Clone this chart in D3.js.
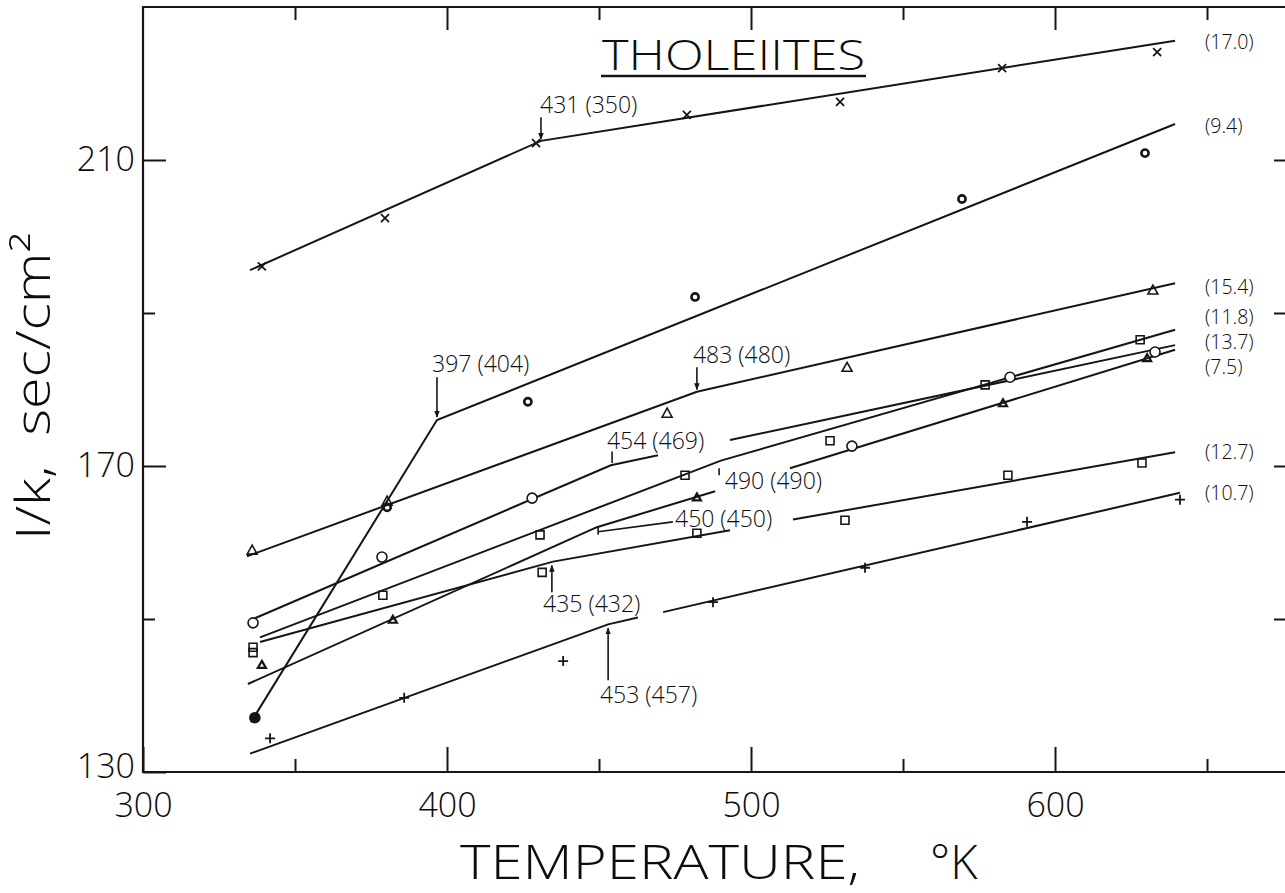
<!DOCTYPE html>
<html><head><meta charset="utf-8">
<script src="https://cdn.jsdelivr.net/npm/d3@7"></script>
<style>
html,body{margin:0;padding:0;background:#fff;}
svg{display:block;}
text{font-family:"Open Sans","DejaVu Sans",sans-serif;font-weight:300;fill:#0d0d0d;}
</style></head><body>
<svg id="chart" width="1285" height="893"></svg>
<script>
// ---------- data (temperature in °K, 1/k in sec/cm²) ----------
const xMajorTicks = [300, 400, 500, 600];
const xMinorTicks = [350, 450, 550, 650];
const yMajorTicks = [130, 170, 210];
const yMinorTicks = [150, 190];
const xDomain = [300, 679.6];
const yDomain = [130, 230];

const seriesLabels = ["(17.0)", "(9.4)", "(15.4)", "(11.8)", "(13.7)", "(7.5)", "(12.7)", "(10.7)"];
const seriesLabelValues = [225.4, 214.4, 193.4, 189.5, 186.2, 182.9, 171.8, 166.5];
const seriesMarkers = ["cross", "ring", "tri", "square", "circle", "smalltri", "square", "plus"];

// fitted lines (segments; gaps where annotation text sits)
const fit170 = [[[335.2,195.6],[430.9,212.5],[639.5,225.6]]];
const fit94  = [[[335.5,136.5],[396.7,176.0],[639.5,214.7]]];
const fit154 = [[[334.2,158.2],[482.2,179.7],[639.5,193.9]]];
const fit118 = [[[338.5,147.6],[490.1,170.7],[639.5,187.8]]];
const fit137 = [[[336.8,150.1],[453.9,170.1],[469.4,171.4]],[[493.1,173.4],[639.5,185.8]]];
const fit75  = [[[334.5,141.5],[449.3,162.0],[488.2,166.7]],[[512.8,169.7],[639.5,185.2]]];
const fit127 = [[[338.5,147.0],[434.9,157.5],[493.1,161.6]],[[513.8,163.0],[639.5,171.8]]];
const fit107 = [[[335.2,132.4],[453.0,149.3],[462.8,150.2]],[[471.1,150.9],[641.1,166.5]]];

// measured points
const pts170 = [[339.1,196.1],[379.6,202.4],[429.3,212.2],[478.9,215.9],[529.3,217.6],[582.6,222.0],[633.6,224.1]];
const pts94  = [[336.8,137.1],[380.3,164.6],[426.6,178.4],[481.6,192.1],[569.4,204.9],[629.6,210.9]];
const pts154 = [[335.9,159.0],[380.3,165.4],[472.4,176.9],[531.6,182.9],[632.2,193.0]];
const pts118 = [[336.2,146.3],[378.9,153.1],[430.6,161.0],[478.3,168.8],[526.0,173.3],[577.0,180.6],[628.0,186.5]];
const pts137 = [[336.2,149.5],[378.6,158.1],[428.0,165.8],[533.2,172.6],[585.2,181.6],[632.9,184.9]];
const pts75  = [[339.1,144.0],[382.2,149.9],[482.2,165.9],[582.9,178.2],[630.3,184.1]];
const pts127 = [[336.2,145.6],[431.3,156.1],[482.2,161.2],[530.9,162.9],[584.5,168.8],[628.6,170.4]];
const pts107 = [[341.8,134.4],[385.9,139.7],[438.2,144.5],[487.5,152.2],[537.5,156.7],[590.8,162.7],[641.1,165.6]];

// break-point annotations: text, text anchor (T,V), pointer from (T,V1) to (T,V2), pointer kind
const noteTexts = ["431 (350)", "397 (404)", "483 (480)", "454 (469)", "490 (490)", "450 (450)", "435 (432)", "453 (457)"];
const noteTextPos = [[430.6,216.1],[395.1,182.3],[480.9,183.5],[452.6,172.2],[491.4,167.0],[475.0,162.0],[431.6,150.9],[450.3,139.0]];
const notePointers = [
  [[430.9,215.6],[430.9,212.7]],
  [[396.7,181.6],[396.7,176.4]],
  [[482.2,182.9],[482.2,180.0]],
  [[454.3,171.9],[454.3,170.4]],
  [[489.5,169.7],[489.5,168.8]],
  [[449.7,161.4],[474.3,162.7]],
  [[434.5,153.5],[434.5,157.0]],
  [[453.0,142.0],[453.0,148.8]]
];
const noteArrow = [true, true, true, false, false, false, true, true];

const chartTitle = "THOLEIITES";
const xTitle = "TEMPERATURE,";
const xUnit = "°K";
const yTitle = "I/k,\u00a0\u00a0sec/cm²";

// ---------- drawing ----------
const svg = d3.select("#chart");
const x = d3.scaleLinear().domain(xDomain).range([143, 1297]);
const y = d3.scaleLinear().domain(yDomain).range([772, 7]);
const ink = "#151515";

svg.append("rect").attr("width",1285).attr("height",893).attr("fill","#fff");

const defs = svg.append("defs");
defs.append("marker").attr("id","arr").attr("viewBox","0 0 10 10").attr("refX",9).attr("refY",5)
  .attr("markerWidth",7).attr("markerHeight",7).attr("markerUnits","userSpaceOnUse").attr("orient","auto")
  .append("path").attr("d","M0,1 L10,5 L0,9 Z").attr("fill",ink);

// frame
const [x0,x1] = x.range(), [yb,yt] = y.range();
svg.append("path").attr("d",`M${x0},${yt} L${x1},${yt} L${x1},${yb} L${x0},${yb} Z`)
  .attr("fill","none").attr("stroke",ink).attr("stroke-width",2.2);

function styleAxis(g){
  g.select(".domain").remove();
  g.selectAll("line").attr("stroke",ink).attr("stroke-width",2);
  g.attr("font-family",null).attr("font-size",null);
}
// bottom
svg.append("g").attr("transform",`translate(0,${yb})`)
  .call(d3.axisBottom(x).tickValues(xMajorTicks).tickSizeInner(-25).tickSizeOuter(0).tickPadding(21).tickFormat(d3.format("d")))
  .call(styleAxis).selectAll("text").attr("font-size",34);
svg.append("g").attr("transform",`translate(0,${yb})`)
  .call(d3.axisBottom(x).tickValues(xMinorTicks).tickSizeInner(-13).tickSizeOuter(0).tickFormat(""))
  .call(styleAxis);
// top
svg.append("g").attr("transform",`translate(0,${yt})`)
  .call(d3.axisTop(x).tickValues(xMajorTicks.slice(1)).tickSizeInner(-23).tickSizeOuter(0).tickFormat(""))
  .call(styleAxis);
svg.append("g").attr("transform",`translate(0,${yt})`)
  .call(d3.axisTop(x).tickValues(xMinorTicks).tickSizeInner(-13).tickSizeOuter(0).tickFormat(""))
  .call(styleAxis);
// left
svg.append("g").attr("transform",`translate(${x0},0)`)
  .call(d3.axisLeft(y).tickValues(yMajorTicks).tickSizeInner(-23).tickSizeOuter(0).tickPadding(8).tickFormat(d3.format("d")))
  .call(styleAxis).selectAll("text").attr("font-size",34).attr("dy",d=>d===130?"0.15em":"0.32em");
svg.append("g").attr("transform",`translate(${x0},0)`)
  .call(d3.axisLeft(y).tickValues(yMinorTicks).tickSizeInner(-12).tickSizeOuter(0).tickFormat(""))
  .call(styleAxis);
// right
svg.append("g").attr("transform",`translate(${x1},0)`)
  .call(d3.axisRight(y).tickValues(yMajorTicks.slice(1)).tickSizeInner(-23).tickSizeOuter(0).tickFormat(""))
  .call(styleAxis);
svg.append("g").attr("transform",`translate(${x1},0)`)
  .call(d3.axisRight(y).tickValues(yMinorTicks).tickSizeInner(-23).tickSizeOuter(0).tickFormat(""))
  .call(styleAxis);

// fitted lines
const fits = [fit170, fit94, fit154, fit118, fit137, fit75, fit127, fit107];
const pts = [pts170, pts94, pts154, pts118, pts137, pts75, pts127, pts107];
const line = d3.line().x(d=>x(d[0])).y(d=>y(d[1]));
const gl = svg.append("g");
fits.forEach(segs => segs.forEach(s => {
  gl.append("path").attr("d", line(s)).attr("fill","none").attr("stroke",ink).attr("stroke-width",2);
}));

// markers
function marker(g, kind, cx, cy, first){
  const s = g.append("g").attr("transform",`translate(${cx},${cy})`);
  const P = (d,w)=>s.append("path").attr("d",d).attr("stroke",ink).attr("fill","none").attr("stroke-width",w);
  if(kind==="cross"){ P("M-4,-4L4,4M4,-4L-4,4",1.8); }
  else if(kind==="ring"){ s.append("circle").attr("r",first?4.5:3.6).attr("fill",first?ink:"none").attr("stroke",ink).attr("stroke-width",2.6); }
  else if(kind==="tri"){ P("M0,-5L5,4L-5,4Z",1.6); }
  else if(kind==="smalltri"){ P("M0,-4L4,3L-4,3Z",2.2); }
  else if(kind==="square"){ P("M-4,-4H4V4H-4Z",1.6); }
  else if(kind==="circle"){ s.append("circle").attr("r",5).attr("fill","#fff").attr("stroke",ink).attr("stroke-width",1.6); }
  else if(kind==="plus"){ P("M-5,0H5M0,-5V5",1.8); }
}
const gm = svg.append("g");
pts.forEach((arr,i) => arr.forEach((p,j) => marker(gm, seriesMarkers[i], x(p[0]), y(p[1]), j===0)));

// series labels on right
svg.append("g").selectAll("text").data(seriesLabels).join("text")
  .attr("x", 1205).attr("y", (d,i)=>y(seriesLabelValues[i])).attr("dy","0.35em")
  .attr("font-size",19.5).text(d=>d);

// annotations
const gn = svg.append("g");
noteTexts.forEach((t,i)=>{
  gn.append("text").attr("x",x(noteTextPos[i][0])).attr("y",y(noteTextPos[i][1])).attr("font-size",23).text(t);
  const [a,b] = notePointers[i];
  const ln = gn.append("line").attr("x1",x(a[0])).attr("y1",y(a[1])).attr("x2",x(b[0])).attr("y2",y(b[1]))
    .attr("stroke",ink).attr("stroke-width",1.6);
  if(noteArrow[i]) ln.attr("marker-end","url(#arr)");
});
// small tick at start of 450 leader
gn.append("line").attr("x1",x(notePointers[5][0][0])).attr("x2",x(notePointers[5][0][0]))
  .attr("y1",y(notePointers[5][0][1])-5).attr("y2",y(notePointers[5][0][1])+3).attr("stroke",ink).attr("stroke-width",1.6);

// title
svg.append("text").attr("x",602).attr("y",70).attr("font-size",42)
  .attr("textLength",263).attr("lengthAdjust","spacingAndGlyphs").text(chartTitle);
svg.append("line").attr("x1",601).attr("x2",866).attr("y1",76).attr("y2",76).attr("stroke",ink).attr("stroke-width",2.4);

// axis titles
svg.append("text").attr("x",460).attr("y",879).attr("font-size",47)
  .attr("textLength",400).attr("lengthAdjust","spacingAndGlyphs").text(xTitle);
svg.append("text").attr("x",930).attr("y",879).attr("font-size",47).text(xUnit);
svg.append("text").attr("transform","translate(50,540) rotate(-90)").attr("x",0).attr("y",0)
  .attr("font-size",48).attr("textLength",307).attr("lengthAdjust","spacingAndGlyphs")
  .style("white-space","pre").text(yTitle);
</script>
</body></html>
